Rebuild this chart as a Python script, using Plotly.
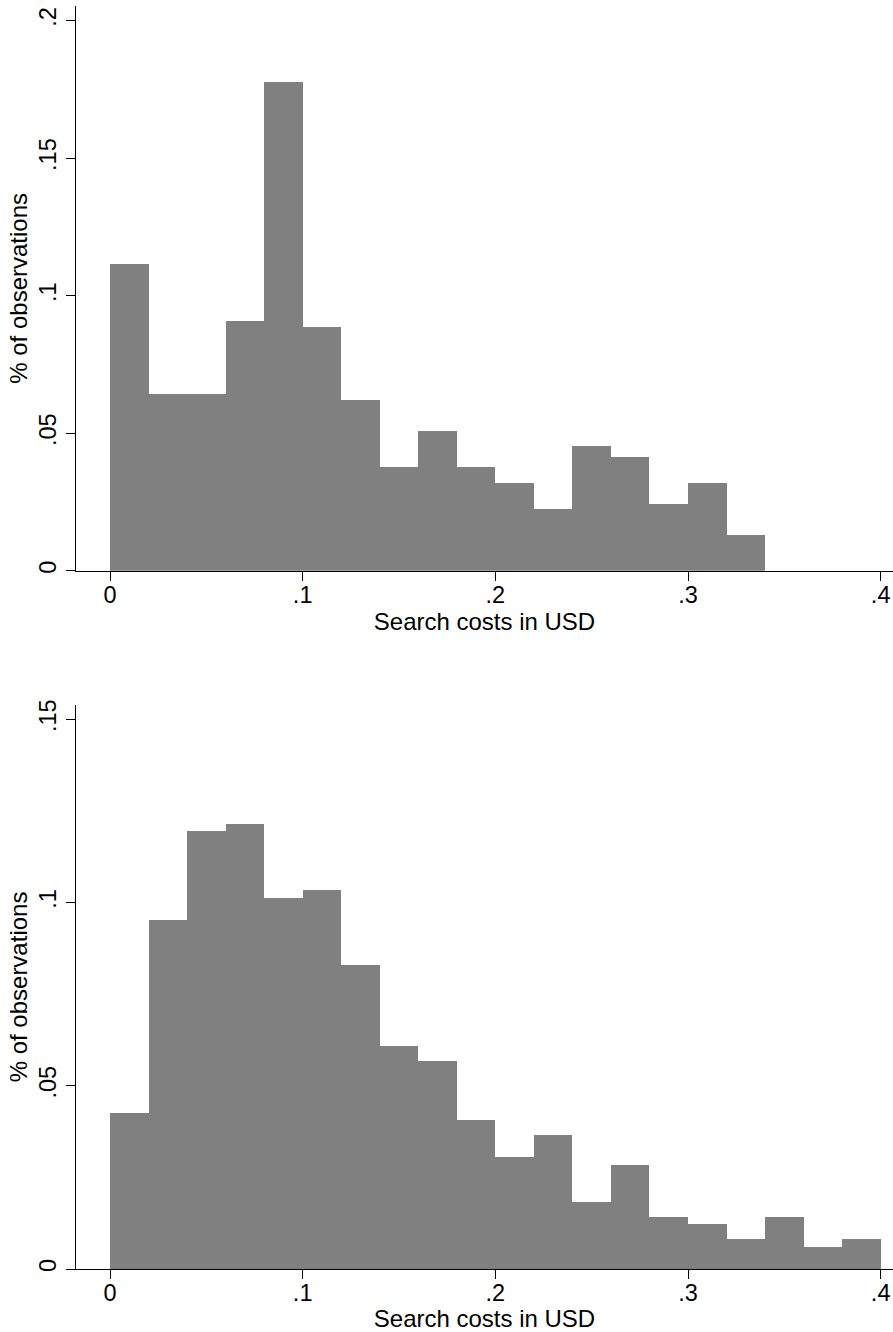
import plotly.graph_objects as go
from plotly.subplots import make_subplots

# Bin left edges (USD) and bin width
bin_left_top = [0.00, 0.02, 0.04, 0.06, 0.08, 0.10, 0.12, 0.14, 0.16, 0.18,
                0.20, 0.22, 0.24, 0.26, 0.28, 0.30, 0.32]
share_top = [0.1115, 0.0643, 0.0643, 0.0907, 0.1777, 0.0887, 0.0622, 0.0378, 0.0509, 0.0378,
             0.0320, 0.0225, 0.0452, 0.0414, 0.0243, 0.0320, 0.0131]

bin_left_bottom = [0.00, 0.02, 0.04, 0.06, 0.08, 0.10, 0.12, 0.14, 0.16, 0.18,
                   0.20, 0.22, 0.24, 0.26, 0.28, 0.30, 0.32, 0.34, 0.36, 0.38]
share_bottom = [0.0425, 0.0952, 0.1196, 0.1215, 0.1012, 0.1035, 0.0829, 0.0609, 0.0567, 0.0406,
                0.0305, 0.0365, 0.0182, 0.0283, 0.0141, 0.0122, 0.0081, 0.0141, 0.0059, 0.0081]
bin_width = 0.02

x_ticks = [0, 0.1, 0.2, 0.3, 0.4]
x_ticklabels = ["0", ".1", ".2", ".3", ".4"]
y_ticks_top = [0, 0.05, 0.1, 0.15, 0.2]
y_ticklabels_top = ["0", ".05", ".1", ".15", ".2"]
y_ticks_bottom = [0, 0.05, 0.1, 0.15]
y_ticklabels_bottom = ["0", ".05", ".1", ".15"]

x_title = "Search costs in USD"
y_title = "% of observations"

BAR = "#808080"
FONT = "Liberation Sans, Arial, sans-serif"
TICK_SIZE = 23.5
TITLE_SIZE = 24

fig = make_subplots(rows=2, cols=1, vertical_spacing=0.1)

fig.add_trace(go.Bar(x=bin_left_top, y=share_top, width=bin_width, offset=0,
                     marker=dict(color=BAR, line=dict(width=0)), showlegend=False),
              row=1, col=1)
fig.add_trace(go.Bar(x=bin_left_bottom, y=share_bottom, width=bin_width, offset=0,
                     marker=dict(color=BAR, line=dict(width=0)), showlegend=False),
              row=2, col=1)

axis_common = dict(showline=True, linecolor="black", linewidth=1, ticks="outside",
                   ticklen=9, tickwidth=1, tickcolor="black", showgrid=False,
                   zeroline=False, automargin=False,
                   tickfont=dict(size=TICK_SIZE, color="black", family=FONT))

x_range = [-0.01765, 0.4064]
fig.update_xaxes(range=x_range, tickvals=x_ticks, ticktext=x_ticklabels,
                 ticklabelstandoff=-6,
                 title=dict(text=x_title, font=dict(size=TITLE_SIZE, color="black", family=FONT), standoff=0),
                 **axis_common)

fig.update_yaxes(row=1, col=1, range=[0, 0.2053], tickvals=y_ticks_top, ticktext=y_ticklabels_top,
                 domain=[0.5529, 1.0])
fig.update_yaxes(row=2, col=1, range=[0, 0.1539], tickvals=y_ticks_bottom, ticktext=y_ticklabels_bottom,
                 domain=[0.0, 0.4466])
fig.update_yaxes(tickangle=-90, ticklabelstandoff=1,
                 title=dict(text=y_title, font=dict(size=TITLE_SIZE, color="black", family=FONT), standoff=0),
                 **axis_common)

fig.update_layout(width=893, height=1332, bargap=0,
                  margin=dict(l=76, r=0, t=6, b=63),
                  plot_bgcolor="white", paper_bgcolor="white",
                  font=dict(family=FONT, color="black"))

fig.write_html("out.html", config={"displayModeBar": False},
               post_script="document.body.style.margin='0';document.body.style.overflow='hidden';")
